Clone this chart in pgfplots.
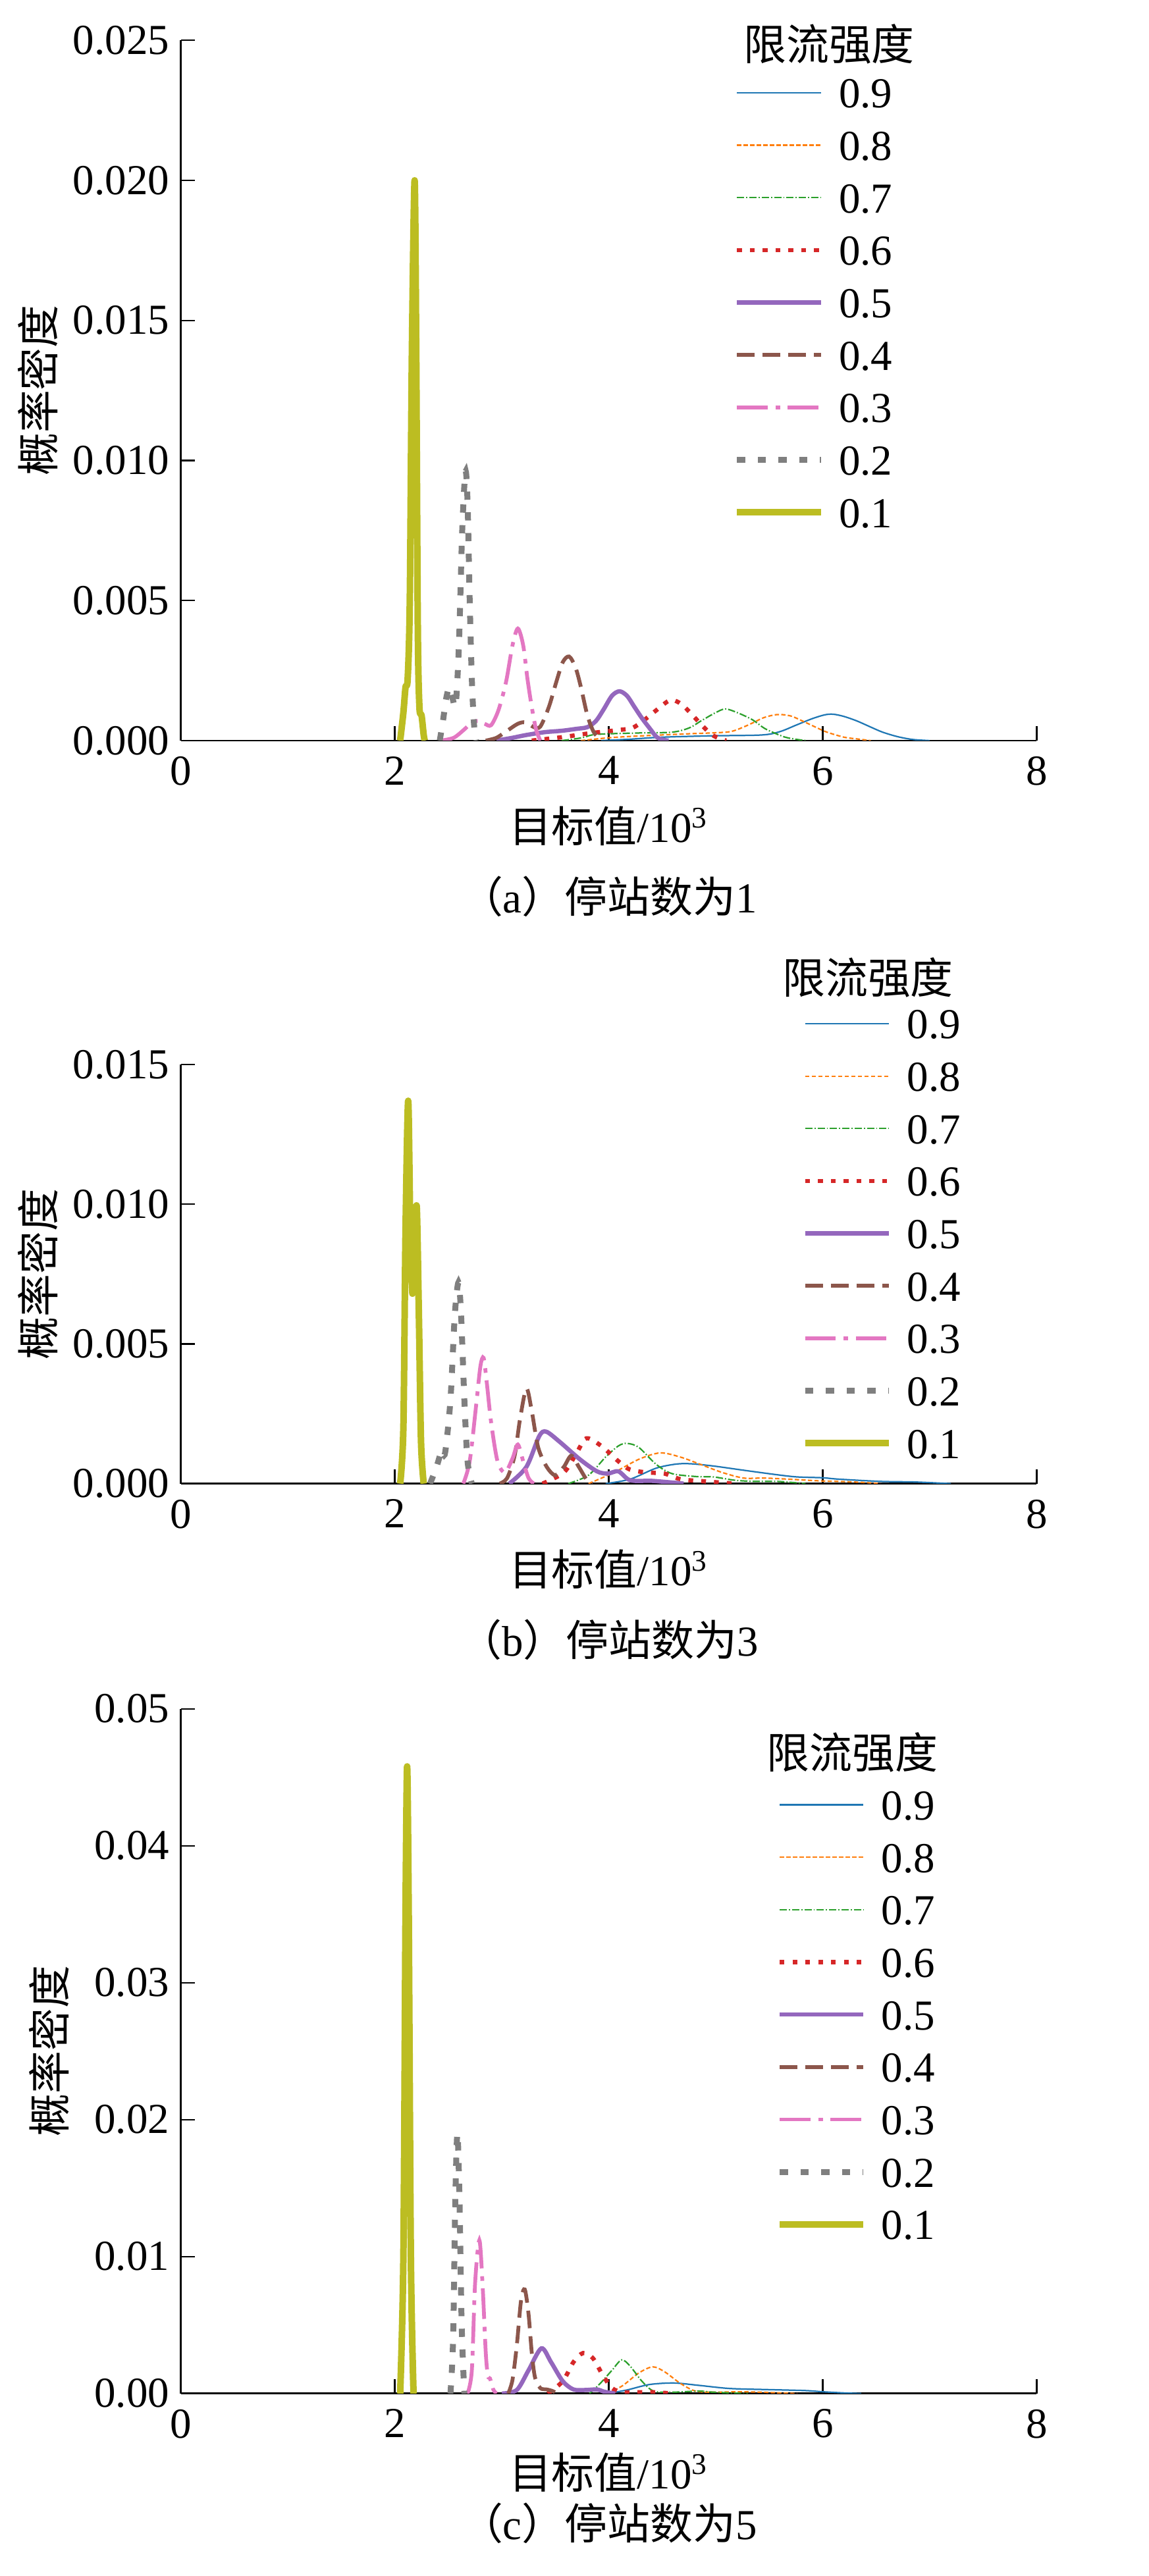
\documentclass[border=0pt]{standalone}
\usepackage{pgfplots}
\pgfplotsset{compat=1.18}
\usepackage{fontspec}
\setmainfont{Liberation Serif}
\newfontfamily\cjk{Noto Sans CJK SC}
\definecolor{c9}{HTML}{1F77B4}
\definecolor{c8}{HTML}{FF7F0E}
\definecolor{c7}{HTML}{2CA02C}
\definecolor{c6}{HTML}{D62728}
\definecolor{c5}{HTML}{9467BD}
\definecolor{c4}{HTML}{8C564B}
\definecolor{c3}{HTML}{E377C2}
\definecolor{c2}{HTML}{7F7F7F}
\definecolor{c1}{HTML}{BCBD22}
\pgfplotsset{
 s9/.style={color=c9, line width=0.45pt, solid, smooth, tension=0.5},
 s8/.style={color=c8, line width=0.45pt, dash pattern=on 1.3pt off 0.7pt, smooth, tension=0.5},
 s7/.style={color=c7, line width=0.45pt, dash pattern=on 2.2pt off 0.6pt on 0.35pt off 0.6pt, smooth, tension=0.5},
 s6/.style={color=c6, line width=1.3pt, dash pattern=on 1.45pt off 2.45pt, smooth, tension=0.5},
 s5/.style={color=c5, line width=1.3pt, solid, smooth, tension=0.5},
 s4/.style={color=c4, line width=1.15pt, dash pattern=on 5.35pt off 2.45pt, smooth, tension=0.5},
 s3/.style={color=c3, line width=1.15pt, dash pattern=on 9.3pt off 2.4pt on 1.4pt off 2.3pt, smooth, tension=0.5},
 s2/.style={color=c2, line width=1.8pt, dash pattern=on 2.5pt off 3.8pt, smooth, tension=0.5},
 s1/.style={color=c1, line width=2.0pt, solid, smooth, tension=0.5, line join=round},
 panel/.style={
  scale only axis, width=260.25pt,
  xmin=0, xmax=8, ymin=0,
  axis x line*=bottom, axis y line*=left,
  axis line style={-, line width=0.55pt, black},
  tick align=inside, major tick length=4.3pt,
  tick style={line width=0.45pt, black},
  xtick={0,2,4,6,8},
  scaled y ticks=false,
  /pgf/number format/assume math mode=true,
  tick label style={font=\fontsize{13}{13}\selectfont},
  xticklabel style={yshift=-1.3pt},
  label style={font=\fontsize{13}{15}\selectfont},
  xlabel={{\cjk 目标值}/10\textsuperscript{3}},
  ylabel={\cjk 概率密度},
  legend cell align=left,
  legend image code/.code={\draw[##1] (0pt,0pt) -- (25.45pt,0pt);},
  legend entries={0.9,0.8,0.7,0.6,0.5,0.4,0.3,0.2,0.1},
 },
 legpos/.style 2 args={legend style={at={(axis description cs:#1,#2)}, anchor=north west,
   draw=none, fill=none, inner sep=0pt, outer sep=0pt, row sep=6.75pt, column sep=4.55pt,
   font=\fontsize{13}{13}\selectfont,
   nodes={inner sep=0pt, outer sep=0pt, text height=9.2pt, text depth=0pt}}},
}
\begin{document}
\begin{tikzpicture}
\path[use as bounding box] (0pt,0pt) rectangle (349.2pt,-783.5pt);

% ---------------- (a) ----------------
\begin{axis}[panel, at={(55pt,-225.25pt)}, anchor=south west, height=213pt,
  ymax=0.025, ytick={0,0.005,0.01,0.015,0.02,0.025},
  yticklabels={0.000,0.005,0.010,0.015,0.020,0.025},
  xlabel style={at={(axis description cs:0.5,-0.1221)}, anchor=center},
  ylabel style={at={(axis description cs:-0.1671,0.5)}, anchor=center},
  legpos={0.6461}{0.9467}]
\addplot[s9] coordinates {(3.93,0) (4.2,0.00005) (4.49,0.00012) (4.96,0.00017) (5.43,0.0002) (5.6,0.00032) (5.75,0.00055) (5.9,0.00078) (6.02,0.00092) (6.1,0.00094) (6.2,0.00086) (6.32,0.0007) (6.45,0.00048) (6.56,0.0003) (6.7,0.00014) (6.84,0.00004) (7.0,0)};
\addplot[s8] coordinates {(3.74,0) (4.0,0.0001) (4.26,0.00016) (4.73,0.00024) (5.0,0.00028) (5.15,0.00033) (5.3,0.00055) (5.45,0.00082) (5.58,0.00093) (5.7,0.00088) (5.81,0.0007) (5.95,0.00045) (6.04,0.0003) (6.2,0.00012) (6.32,0.00006) (6.45,0)};
\addplot[s7] coordinates {(3.56,0) (3.75,0.0001) (3.88,0.00022) (4.26,0.00027) (4.59,0.0003) (4.75,0.00045) (4.87,0.00072) (5.0,0.001) (5.09,0.00113) (5.2,0.001) (5.34,0.00075) (5.45,0.00045) (5.53,0.0003) (5.65,0.00012) (5.76,0.00004) (5.85,0)};
\addplot[s6] coordinates {(3.28,0) (3.56,0.00012) (3.84,0.00027) (4.1,0.00038) (4.22,0.00045) (4.32,0.0007) (4.45,0.0011) (4.55,0.0014) (4.6,0.00145) (4.68,0.0013) (4.76,0.001) (4.87,0.00055) (4.96,0.00022) (5.05,0.00005) (5.1,0)};
\addplot[s5] coordinates {(2.95,0) (3.1,0.0001) (3.23,0.0002) (3.4,0.0003) (3.56,0.00035) (3.7,0.00042) (3.8,0.00048) (3.88,0.0007) (3.95,0.0011) (4.03,0.0016) (4.1,0.00176) (4.17,0.0016) (4.24,0.0012) (4.31,0.0008) (4.38,0.00045) (4.45,0.00012) (4.52,0.00002) (4.56,0)};
\addplot[s4] coordinates {(2.85,0) (2.95,0.0001) (3.05,0.00035) (3.15,0.0006) (3.22,0.00065) (3.3,0.00048) (3.36,0.0005) (3.44,0.0012) (3.51,0.0021) (3.57,0.0028) (3.63,0.003) (3.69,0.0026) (3.74,0.0019) (3.8,0.0009) (3.86,0.0003) (3.93,0)};
\addplot[s3] coordinates {(2.43,0) (2.55,0.0001) (2.65,0.0004) (2.72,0.00065) (2.78,0.0007) (2.84,0.0006) (2.9,0.00055) (2.97,0.0011) (3.04,0.0021) (3.1,0.0034) (3.15,0.004) (3.2,0.0034) (3.24,0.0022) (3.28,0.0012) (3.32,0.0004) (3.36,0)};
\addplot[s2] coordinates {(2.42,0) (2.45,0.0007) (2.48,0.0015) (2.51,0.0019) (2.54,0.0015) (2.57,0.0013) (2.6,0.0035) (2.63,0.0075) (2.66,0.0096) (2.68,0.0085) (2.7,0.005) (2.72,0.0022) (2.74,0.0006) (2.76,0)};
\addplot[s1] coordinates {(2.05,0) (2.08,0.001) (2.10,0.0019) (2.12,0.0022) (2.14,0.005) (2.16,0.014) (2.185,0.020) (2.2,0.014) (2.215,0.004) (2.23,0.0012) (2.25,0.0009) (2.27,0.0002) (2.28,0)};
\end{axis}
\node[font=\fontsize{13}{15}\selectfont] at (252.1pt,-13.5pt) {\cjk 限流强度};
\node[font=\fontsize{13}{15}\selectfont] at (185.1pt,-272.75pt) {{\cjk （}a{\cjk ）停站数为}1};

% ---------------- (b) ----------------
\begin{axis}[panel, at={(55pt,-451.25pt)}, anchor=south west, height=127.5pt,
  ymax=0.015, ytick={0,0.005,0.01,0.015},
  yticklabels={0.000,0.005,0.010,0.015},
  xlabel style={at={(axis description cs:0.5,-0.2039)}, anchor=center},
  ylabel style={at={(axis description cs:-0.1671,0.5)}, anchor=center},
  legpos={0.7257}{1.1333}]
\addplot[s9] coordinates {(3.97,0) (4.2,0.00016) (4.44,0.00055) (4.63,0.0007) (4.77,0.00071) (4.98,0.00063) (5.26,0.00048) (5.57,0.00032) (5.76,0.00024) (6.0,0.00021) (6.15,0.00016) (6.54,0.00008) (6.85,0.00006) (7.09,0.00002) (7.2,0)};
\addplot[s8] coordinates {(3.81,0) (4.05,0.0004) (4.28,0.00087) (4.48,0.0011) (4.67,0.00095) (4.87,0.00067) (5.06,0.0004) (5.26,0.0002) (5.45,0.0002) (5.68,0.00016) (5.96,0.0001) (6.15,0.00008) (6.39,0.00004) (6.54,0)};
\addplot[s7] coordinates {(3.62,0) (3.81,0.0003) (3.97,0.00095) (4.09,0.00135) (4.17,0.00144) (4.28,0.0013) (4.44,0.0007) (4.59,0.00036) (4.83,0.00025) (4.98,0.00024) (5.18,0.00012) (5.37,0.00008) (5.57,0.00008) (5.72,0.00004) (5.84,0)};
\addplot[s6] coordinates {(3.38,0) (3.58,0.0004) (3.7,0.0011) (3.79,0.00162) (3.93,0.00135) (4.09,0.0008) (4.2,0.0005) (4.36,0.0004) (4.52,0.00036) (4.67,0.00016) (4.9,0.00008) (5.18,0)};
\addplot[s5] coordinates {(3.07,0) (3.23,0.0006) (3.35,0.0017) (3.415,0.00186) (3.54,0.0015) (3.73,0.00087) (3.89,0.00044) (3.99,0.00036) (4.09,0.00044) (4.2,0.00012) (4.4,0.0001) (4.59,0.00004) (4.7,0)};
\addplot[s4] coordinates {(2.98,0) (3.05,0.0002) (3.12,0.001) (3.17,0.0023) (3.23,0.0034) (3.28,0.0026) (3.34,0.0013) (3.42,0.0006) (3.50,0.0003) (3.58,0.0006) (3.65,0.001) (3.72,0.0006) (3.80,0.0001) (3.85,0)};
\addplot[s3] coordinates {(2.64,0) (2.70,0.0008) (2.76,0.0028) (2.80,0.0042) (2.83,0.0045) (2.86,0.0036) (2.90,0.0022) (2.96,0.0008) (3.03,0.0004) (3.10,0.0009) (3.15,0.0014) (3.20,0.0008) (3.25,0.0002) (3.30,0)};
\addplot[s2] coordinates {(2.33,0) (2.39,0.0006) (2.44,0.0012) (2.47,0.0011) (2.52,0.003) (2.56,0.006) (2.595,0.0072) (2.62,0.006) (2.65,0.003) (2.68,0.0008) (2.72,0)};
\addplot[s1] coordinates {(2.05,0) (2.08,0.002) (2.10,0.009) (2.125,0.0137) (2.145,0.009) (2.165,0.0068) (2.185,0.0085) (2.205,0.0099) (2.225,0.006) (2.245,0.0015) (2.27,0)};
\end{axis}
\node[font=\fontsize{13}{15}\selectfont] at (263.9pt,-297.25pt) {\cjk 限流强度};
\node[font=\fontsize{13}{15}\selectfont] at (185.1pt,-498.75pt) {{\cjk （}b{\cjk ）停站数为}3};

% ---------------- (c) ----------------
\begin{axis}[panel, at={(55pt,-728pt)}, anchor=south west, height=208.25pt,
  ymax=0.05, ytick={0,0.01,0.02,0.03,0.04,0.05},
  yticklabels={0.00,0.01,0.02,0.03,0.04,0.05},
  xlabel style={at={(axis description cs:0.5,-0.1152)}, anchor=center},
  ylabel style={at={(axis description cs:-0.1537,0.5)}, anchor=center},
  legpos={0.6959}{0.8821}]
\addplot[s9] coordinates {(3.99,0) (4.17,0.00026) (4.38,0.00066) (4.61,0.00077) (4.84,0.0006) (5.13,0.00037) (5.48,0.00029) (5.83,0.00022) (6.0,0.00013) (6.19,0.00005) (6.36,0)};
\addplot[s8] coordinates {(3.99,0) (4.13,0.00058) (4.28,0.0015) (4.41,0.00195) (4.52,0.0016) (4.67,0.00074) (4.81,0.00018) (4.98,0.0001) (5.2,0.00013) (5.41,0.0001) (5.66,0.00003) (5.76,0)};
\addplot[s7] coordinates {(3.82,0) (3.92,0.00074) (4.03,0.0017) (4.12,0.00246) (4.2,0.002) (4.31,0.0009) (4.42,0.00018) (4.6,0.0001) (4.84,0.00018) (4.98,0.0001) (5.2,0.00003) (5.3,0)};
\addplot[s6] coordinates {(3.43,0) (3.57,0.0009) (3.67,0.0023) (3.76,0.00296) (3.85,0.0026) (3.94,0.0014) (4.03,0.0004) (4.13,0.0001) (4.28,0.0001) (4.42,0.0001) (4.6,0)};
\addplot[s5] coordinates {(3.0,0) (3.14,0.00026) (3.25,0.0017) (3.37,0.0033) (3.46,0.0023) (3.57,0.0009) (3.67,0.0003) (3.78,0.00026) (3.89,0.0003) (3.96,0.00013) (4.06,0)};
\addplot[s4] coordinates {(3.06,0) (3.10,0.001) (3.14,0.0035) (3.18,0.0068) (3.215,0.0076) (3.25,0.0058) (3.28,0.003) (3.31,0.0012) (3.36,0.0004) (3.42,0.0003) (3.47,0.0002) (3.52,0)};
\addplot[s3] coordinates {(2.68,0) (2.72,0.0017) (2.75,0.008) (2.79,0.0112) (2.82,0.008) (2.85,0.003) (2.87,0.0013) (2.89,0.0011) (2.92,0.0003) (2.95,0)};
\addplot[s2] coordinates {(2.52,0) (2.545,0.004) (2.565,0.014) (2.585,0.019) (2.605,0.014) (2.625,0.005) (2.65,0)};
\addplot[s1] coordinates {(2.05,0) (2.08,0.01) (2.10,0.035) (2.115,0.0458) (2.13,0.035) (2.15,0.01) (2.175,0)};
\end{axis}
\node[font=\fontsize{13}{15}\selectfont] at (259.25pt,-533pt) {\cjk 限流强度};
\node[font=\fontsize{13}{15}\selectfont] at (185.1pt,-767.5pt) {{\cjk （}c{\cjk ）停站数为}5};
\end{tikzpicture}
\end{document}
